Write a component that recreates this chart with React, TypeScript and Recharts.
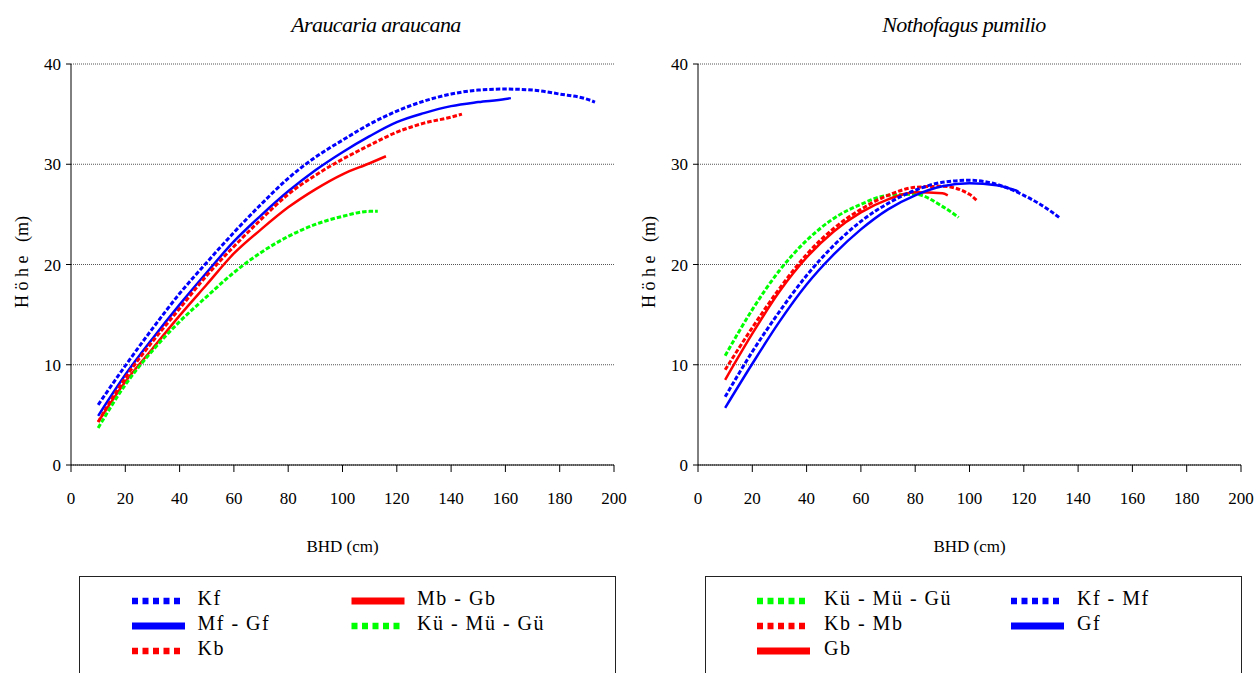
import { CartesianGrid, Line, LineChart, XAxis, YAxis } from 'recharts';

const FONT = 'Liberation Serif';

const xTicks = [0, 20, 40, 60, 80, 100, 120, 140, 160, 180, 200];
const yTicks = [0, 10, 20, 30, 40];

// Araucaria araucana – height curves per crown/stem class
const araKfDbh = [10, 20, 30, 40, 50, 60, 70, 80, 90, 100, 110, 120, 130, 140, 150, 160, 170, 180, 190, 193];
const araKfH = [6.0, 9.9, 13.6, 17.1, 20.2, 23.2, 26.0, 28.6, 30.7, 32.4, 34.0, 35.3, 36.3, 37.0, 37.4, 37.5, 37.4, 37.0, 36.5, 36.2];

const araMfGfDbh = [10, 20, 30, 40, 50, 60, 70, 80, 90, 100, 110, 120, 130, 140, 150, 160, 162];
const araMfGfH = [4.9, 9.0, 12.6, 16.0, 19.2, 22.3, 24.9, 27.3, 29.4, 31.2, 32.8, 34.2, 35.1, 35.8, 36.2, 36.5, 36.6];

const araKbDbh = [10, 20, 30, 40, 50, 60, 70, 80, 90, 100, 110, 120, 130, 140, 144];
const araKbH = [4.3, 8.7, 12.3, 15.6, 18.9, 21.8, 24.5, 27.0, 28.9, 30.5, 31.9, 33.2, 34.1, 34.7, 35.0];

const araMbGbDbh = [10, 20, 30, 40, 50, 60, 70, 80, 90, 100, 110, 116];
const araMbGbH = [4.3, 8.3, 11.6, 14.9, 18.0, 21.1, 23.5, 25.7, 27.5, 29.0, 30.1, 30.8];

const araKuMuGuDbh = [10, 20, 30, 40, 50, 60, 70, 80, 90, 100, 110, 113];
const araKuMuGuH = [3.7, 8.0, 11.4, 14.3, 16.8, 19.2, 21.2, 22.8, 24.0, 24.8, 25.3, 25.3];

// Nothofagus pumilio
const notKuMuGuDbh = [10, 20, 30, 40, 50, 60, 70, 80, 90, 96];
const notKuMuGuH = [10.9, 15.5, 19.4, 22.4, 24.6, 26.0, 26.9, 27.0, 25.8, 24.7];

const notKbMbDbh = [10, 20, 30, 40, 50, 60, 70, 80, 90, 100, 103];
const notKbMbH = [9.5, 13.7, 17.6, 21.0, 23.6, 25.5, 26.9, 27.7, 27.8, 27.0, 26.3];

const notGbDbh = [10, 20, 30, 40, 50, 60, 70, 80, 90, 92];
const notGbH = [8.5, 13.1, 17.3, 20.7, 23.3, 25.2, 26.5, 27.2, 27.1, 26.9];

const notKfMfDbh = [10, 20, 30, 40, 50, 60, 70, 80, 90, 100, 110, 120, 130, 133];
const notKfMfH = [6.8, 11.3, 15.3, 18.9, 21.9, 24.3, 26.1, 27.4, 28.2, 28.4, 28.0, 26.9, 25.3, 24.7];

const notGfDbh = [10, 20, 30, 40, 50, 60, 70, 80, 90, 100, 110, 118];
const notGfH = [5.7, 10.1, 14.3, 18.0, 21.0, 23.5, 25.5, 26.9, 27.8, 28.1, 27.9, 27.3];

const BLUE = '#0000ff';
const RED = '#ff0000';
const GREEN = '#00ff00';

interface Series {
  name: string;
  color: string;
  dotted: boolean;
  dbh: number[];
  h: number[];
}

// listed in legend order: first three go in the left column
const araucariaSeries: Series[] = [
  { name: 'Kf', color: BLUE, dotted: true, dbh: araKfDbh, h: araKfH },
  { name: 'Mf - Gf', color: BLUE, dotted: false, dbh: araMfGfDbh, h: araMfGfH },
  { name: 'Kb', color: RED, dotted: true, dbh: araKbDbh, h: araKbH },
  { name: 'Mb - Gb', color: RED, dotted: false, dbh: araMbGbDbh, h: araMbGbH },
  { name: 'Kü - Mü - Gü', color: GREEN, dotted: true, dbh: araKuMuGuDbh, h: araKuMuGuH },
];

const nothofagusSeries: Series[] = [
  { name: 'Kü - Mü - Gü', color: GREEN, dotted: true, dbh: notKuMuGuDbh, h: notKuMuGuH },
  { name: 'Kb - Mb', color: RED, dotted: true, dbh: notKbMbDbh, h: notKbMbH },
  { name: 'Gb', color: RED, dotted: false, dbh: notGbDbh, h: notGbH },
  { name: 'Kf - Mf', color: BLUE, dotted: true, dbh: notKfMfDbh, h: notKfMfH },
  { name: 'Gf', color: BLUE, dotted: false, dbh: notGfDbh, h: notGfH },
];

const toPoints = (s: Series) => s.dbh.map((d, i) => ({ dbh: d, h: s.h[i] }));

const CHART_W = 628;
const CHART_H = 570;

const tickStyle = { fill: '#000', fontSize: 17, fontFamily: FONT };

const YTitle = () => (
  <text
    x={22}
    y={262}
    transform="rotate(-90 22 262)"
    textAnchor="middle"
    dominantBaseline="central"
    fontFamily={FONT}
    fontSize={18}
    fill="#000"
    style={{ whiteSpace: 'pre' }}
  >
    {'H ö h e   (m)'}
  </text>
);

const XTitle = ({ viewBox }: any) => (
  <text x={viewBox.x + viewBox.width / 2} y={552} textAnchor="middle" fontFamily={FONT} fontSize={17} fill="#000">
    BHD (cm)
  </text>
);

const Panel = ({ series, left }: { series: Series[]; left: number }) => (
  <div style={{ position: 'absolute', left, top: 0 }}>
    <LineChart width={CHART_W} height={CHART_H} margin={{ top: 64, right: 14, bottom: 0, left: 31 }}>
      <CartesianGrid vertical={false} stroke="#555" strokeDasharray="1 1" />
      <XAxis
        type="number"
        dataKey="dbh"
        domain={[0, 200]}
        ticks={xTicks}
        allowDataOverflow
        height={105}
        tickSize={7}
        tickMargin={20}
        tick={tickStyle}
        stroke="#000"
        tickLine={{ stroke: '#000' }}
        label={<XTitle />}
      />
      <YAxis
        type="number"
        domain={[0, 40]}
        ticks={yTicks}
        width={40}
        tickSize={5}
        tickMargin={5}
        tick={tickStyle}
        stroke="#000"
        tickLine={{ stroke: '#000' }}
        label={<YTitle />}
      />
      {series.map((s) => (
        <Line
          key={s.name}
          data={toPoints(s)}
          dataKey="h"
          type="monotone"
          stroke={s.color}
          strokeWidth={s.dotted ? 3 : 2.5}
          strokeDasharray={s.dotted ? '4.5 2' : undefined}
          dot={false}
          activeDot={false}
          isAnimationActive={false}
        />
      ))}
    </LineChart>
  </div>
);

const LegendBox = ({ series, x, colSwatch, colText }: { series: Series[]; x: number; colSwatch: number[]; colText: number[] }) => {
  const rows = [601, 626, 651];
  return (
    <g>
      <rect x={x + 0.5} y={576.5} width={536} height={120} fill="none" stroke="#222" strokeWidth={1} />
      {series.map((s, i) => {
        const col = i < 3 ? 0 : 1;
        const cy = rows[i % 3];
        const sx = x + colSwatch[col];
        return (
          <g key={s.name}>
            {s.dotted ? (
              <line x1={sx} x2={sx + 48} y1={cy} y2={cy} stroke={s.color} strokeWidth={6.5} strokeDasharray="6 4.5" />
            ) : (
              <line x1={sx} x2={sx + 53} y1={cy} y2={cy} stroke={s.color} strokeWidth={7} />
            )}
            <text x={x + colText[col]} y={cy + 4} fontFamily={FONT} fontSize={20} letterSpacing={1.5} fill="#000">
              {s.name}
            </text>
          </g>
        );
      })}
    </g>
  );
};

const App = () => (
  <div style={{ position: 'absolute', left: 0, top: 0, width: 1255, height: 673, overflow: 'hidden', background: '#fff' }}>
    <Panel series={araucariaSeries} left={0} />
    <Panel series={nothofagusSeries} left={627} />
    <svg width={1255} height={673} style={{ position: 'absolute', left: 0, top: 0, pointerEvents: 'none' }}>
      <text x={376} y={31.5} textAnchor="middle" fontFamily={FONT} fontStyle="italic" fontSize={22} letterSpacing={-0.6} fill="#000">
        Araucaria araucana
      </text>
      <text x={964} y={31.5} textAnchor="middle" fontFamily={FONT} fontStyle="italic" fontSize={22} letterSpacing={-0.6} fill="#000">
        Nothofagus pumilio
      </text>
      <LegendBox series={araucariaSeries} x={79} colSwatch={[53, 272.5]} colText={[118.5, 338]} />
      <LegendBox series={nothofagusSeries} x={705} colSwatch={[52, 306]} colText={[119, 372]} />
    </svg>
  </div>
);

export default App;
